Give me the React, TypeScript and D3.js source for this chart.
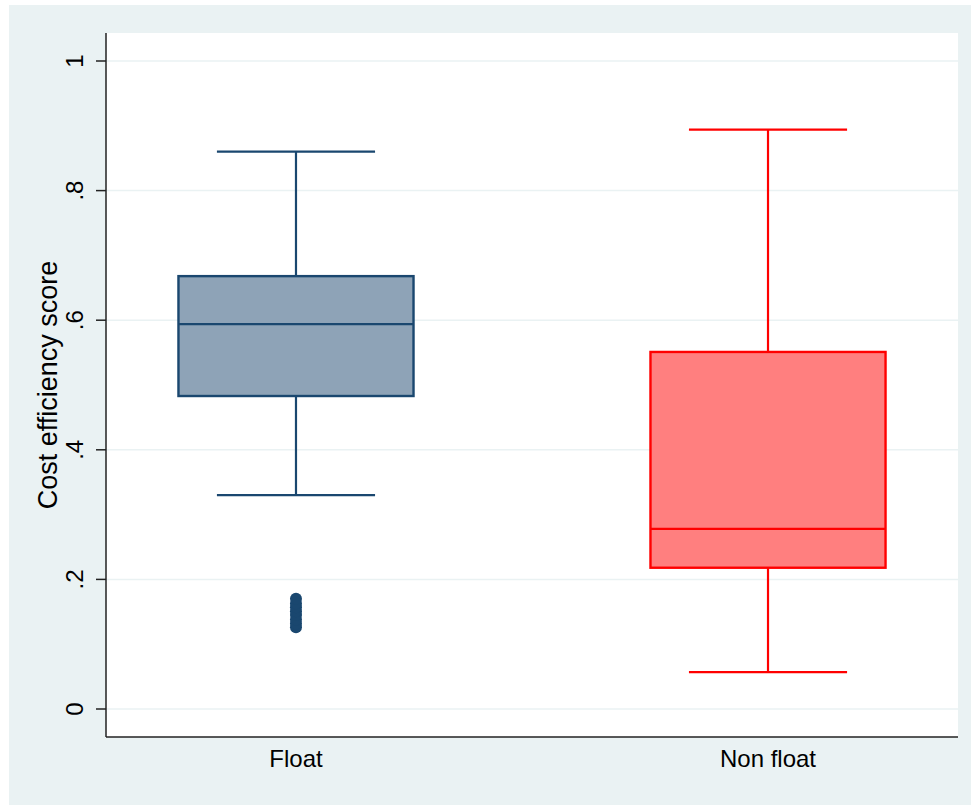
import React, { useEffect, useRef } from 'react';
import * as d3 from 'd3';

const groups = ['Float', 'Non float'];
const q1 = [0.483, 0.218];
const medians = [0.594, 0.278];
const q3 = [0.668, 0.551];
const whiskerLow = [0.33, 0.057];
const whiskerHigh = [0.86, 0.894];
const floatOutliers = [0.126, 0.132, 0.138, 0.145, 0.151, 0.157, 0.163, 0.17];
const yTicks = [0, 0.2, 0.4, 0.6, 0.8, 1];
const yTickLabels = ['0', '.2', '.4', '.6', '.8', '1'];

const strokes = ['#1a476f', '#ff0000'];
const fills = ['#8ea3b7', '#ff7f7f'];

const App = () => {
  const svgRef = useRef(null);

  useEffect(() => {
    const width = 971;
    const height = 805;
    const plot = { left: 106, right: 958, top: 33, bottom: 737 };
    const font = '"Liberation Sans", Arial, sans-serif';

    const svg = d3.select(svgRef.current)
      .attr('width', width)
      .attr('height', height);
    svg.selectAll('*').remove();

    svg.append('rect')
      .attr('x', 9).attr('y', 5)
      .attr('width', width - 9).attr('height', height - 5)
      .attr('fill', '#eaf2f3');

    svg.append('rect')
      .attr('x', plot.left).attr('y', plot.top)
      .attr('width', plot.right - plot.left).attr('height', plot.bottom - plot.top)
      .attr('fill', '#ffffff');

    const y = d3.scaleLinear().domain([0, 1]).range([709, 61]);
    const x = d3.scalePoint().domain(groups).range([plot.left, plot.right]).padding(0.4025);
    const step = x.step();
    const boxW = step * 0.498;
    const capW = step * 0.335;

    // grid
    svg.append('g')
      .selectAll('line')
      .data(yTicks)
      .enter().append('line')
      .attr('x1', plot.left).attr('x2', plot.right)
      .attr('y1', d => y(d)).attr('y2', d => y(d))
      .attr('stroke', '#eaf2f3')
      .attr('stroke-width', 1.5);

    // boxes
    groups.forEach((g, i) => {
      const cx = x(g);
      const gg = svg.append('g');
      gg.append('line')
        .attr('x1', cx).attr('x2', cx)
        .attr('y1', y(q3[i])).attr('y2', y(whiskerHigh[i]))
        .attr('stroke', strokes[i]).attr('stroke-width', 2.2);
      gg.append('line')
        .attr('x1', cx).attr('x2', cx)
        .attr('y1', y(q1[i])).attr('y2', y(whiskerLow[i]))
        .attr('stroke', strokes[i]).attr('stroke-width', 2.2);
      [whiskerHigh[i], whiskerLow[i]].forEach(v => {
        gg.append('line')
          .attr('x1', cx - capW / 2).attr('x2', cx + capW / 2)
          .attr('y1', y(v)).attr('y2', y(v))
          .attr('stroke', strokes[i]).attr('stroke-width', 2.2);
      });
      gg.append('rect')
        .attr('x', cx - boxW / 2)
        .attr('y', y(q3[i]))
        .attr('width', boxW)
        .attr('height', y(q1[i]) - y(q3[i]))
        .attr('fill', fills[i])
        .attr('stroke', strokes[i])
        .attr('stroke-width', 2.4);
      gg.append('line')
        .attr('x1', cx - boxW / 2).attr('x2', cx + boxW / 2)
        .attr('y1', y(medians[i])).attr('y2', y(medians[i]))
        .attr('stroke', strokes[i]).attr('stroke-width', 2.4);
    });

    // outliers
    svg.append('g')
      .selectAll('circle')
      .data(floatOutliers)
      .enter().append('circle')
      .attr('cx', x('Float'))
      .attr('cy', d => y(d))
      .attr('r', 6)
      .attr('fill', strokes[0]);

    // axes
    svg.append('line')
      .attr('x1', plot.left).attr('x2', plot.left)
      .attr('y1', plot.top).attr('y2', plot.bottom)
      .attr('stroke', '#222').attr('stroke-width', 1.5);
    svg.append('line')
      .attr('x1', plot.left).attr('x2', plot.right)
      .attr('y1', plot.bottom).attr('y2', plot.bottom)
      .attr('stroke', '#222').attr('stroke-width', 1.5);

    const yt = svg.append('g');
    yt.selectAll('line')
      .data(yTicks)
      .enter().append('line')
      .attr('x1', 96).attr('x2', plot.left)
      .attr('y1', d => y(d)).attr('y2', d => y(d))
      .attr('stroke', '#222').attr('stroke-width', 1.5);
    yt.selectAll('text')
      .data(yTicks)
      .enter().append('text')
      .attr('transform', d => `translate(83, ${y(d)}) rotate(-90)`)
      .attr('text-anchor', 'middle')
      .attr('font-family', font)
      .attr('font-size', 24)
      .attr('fill', '#000')
      .text((d, i) => yTickLabels[i]);

    svg.append('g')
      .selectAll('text')
      .data(groups)
      .enter().append('text')
      .attr('x', d => x(d))
      .attr('y', 767)
      .attr('text-anchor', 'middle')
      .attr('font-family', font)
      .attr('font-size', 24)
      .attr('fill', '#000')
      .text(d => d);

    svg.append('text')
      .attr('transform', 'translate(57, 385) rotate(-90)')
      .attr('text-anchor', 'middle')
      .attr('font-family', font)
      .attr('font-size', 27)
      .attr('fill', '#000')
      .text('Cost efficiency score');
  }, []);

  return (
    <svg ref={svgRef} style={{ position: 'absolute', left: 0, top: 0, background: '#fff' }}></svg>
  );
};

export default App;
